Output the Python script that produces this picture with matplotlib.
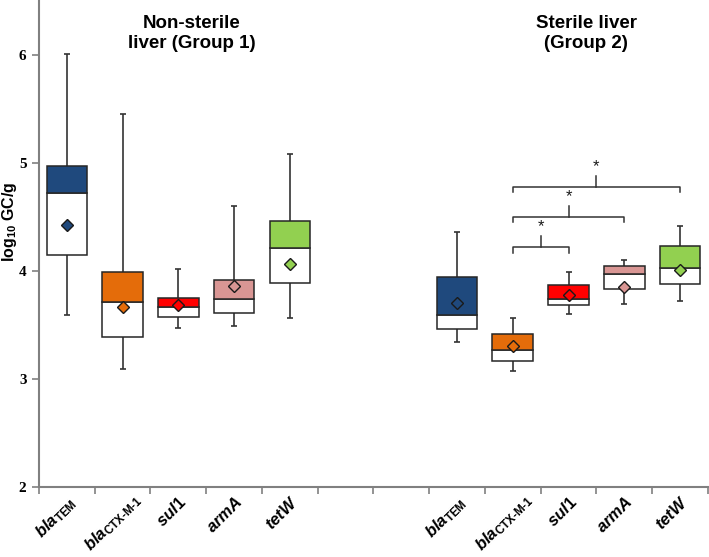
import matplotlib
matplotlib.use('Agg')

import matplotlib.pyplot as plt
import matplotlib.transforms as mtransforms
import numpy as np

plt.rcParams['font.family'] = 'Liberation Sans'
plt.rcParams['mathtext.fontset'] = 'custom'
plt.rcParams['mathtext.rm'] = 'Liberation Sans:bold'
plt.rcParams['mathtext.bf'] = 'Liberation Sans:bold'
plt.rcParams['mathtext.it'] = 'Liberation Sans:bold:italic'

# gene labels (bold italic names, upright subscripts)
genes = [r'$\it{bla}_{\mathrm{TEM}}$', r'$\it{bla}_{\mathrm{CTX\text{-}M\text{-}1}}$',
         r'$\it{sul1}$', r'$\it{armA}$', r'$\it{tetW}$']
colors = ['#1f497d', '#e46c0a', '#ff0000', '#d99694', '#92d050']

# group 1: non-sterile liver
g1_min = [3.59, 3.09, 3.47, 3.49, 3.56]
g1_q1 = [4.15, 3.39, 3.57, 3.61, 3.89]
g1_med = [4.72, 3.71, 3.67, 3.74, 4.21]
g1_q3 = [4.97, 3.99, 3.75, 3.92, 4.46]
g1_max = [6.01, 5.45, 4.02, 4.60, 5.08]
g1_mean = [4.43, 3.67, 3.68, 3.86, 4.06]

# group 2: sterile liver
g2_min = [3.34, 3.07, 3.60, 3.69, 3.72]
g2_q1 = [3.46, 3.17, 3.68, 3.83, 3.88]
g2_med = [3.59, 3.27, 3.74, 3.97, 4.03]
g2_q3 = [3.94, 3.42, 3.87, 4.05, 4.23]
g2_max = [4.36, 3.56, 3.99, 4.10, 4.42]
g2_mean = [3.70, 3.30, 3.78, 3.85, 4.01]

# significance brackets in group 2 (gene index pairs, height)
sig_pairs = [(1, 2), (1, 3), (1, 4)]
sig_heights = [4.22, 4.50, 4.78]

fig = plt.figure(figsize=(7.09, 5.57), dpi=100)
ax = fig.add_axes([0.055, 0.126, 0.9435, 0.874])

x1 = np.arange(5) + 0.5
x2 = np.arange(5) + 7.5
edge = '#262626'

for xs, mn, q1, md, q3, mx, me in [(x1, g1_min, g1_q1, g1_med, g1_q3, g1_max, g1_mean),
                                   (x2, g2_min, g2_q1, g2_med, g2_q3, g2_max, g2_mean)]:
    mn, q1, md, q3, mx = map(np.array, (mn, q1, md, q3, mx))
    # whiskers
    ax.errorbar(xs, md, yerr=[md - mn, mx - md], fmt='none', ecolor='#333333',
                elinewidth=1.2, capsize=2.5, capthick=1.2, zorder=1)
    ax.bar(xs, md - q1, bottom=q1, width=0.73, color='white', edgecolor=edge,
           linewidth=1.1, zorder=2)
    ax.bar(xs, q3 - md, bottom=md, width=0.73, color=colors, edgecolor=edge,
           linewidth=1.1, zorder=2)
    for x, m, c in zip(xs, me, colors):
        ax.plot(x, m, marker='D', ms=6, mfc=c, mec='#1a1a1a', mew=1.0, zorder=3)

for (a, b), h in zip(sig_pairs, sig_heights):
    xa, xb = x2[a], x2[b]
    xm = (xa + xb) / 2
    ax.plot([xa, xa, xb, xb], [h - 0.05, h, h, h - 0.05], color='#333333', lw=1.1,
            solid_joinstyle='round', zorder=2)
    ax.plot([xm, xm], [h, h + 0.10], color='#333333', lw=1.1, zorder=2)
    ax.text(xm, h + 0.12, '*', ha='center', va='bottom', fontsize=12, color='#1a1a1a')

ax.set_xlim(0, 12)
ax.set_ylim(2, 6.51)
ax.set_yticks([2, 3, 4, 5, 6])
ax.set_yticklabels(['2', '3', '4', '5', '6'], fontfamily='Liberation Serif',
                   fontweight='bold', fontsize=11)
ax.set_xticks(np.arange(13))
ax.set_xticklabels([])
ax.set_xticks(np.concatenate([x1, x2]), minor=True)
labels = ax.set_xticklabels(genes * 2, minor=True, rotation=45, ha='right', va='top',
                            rotation_mode='anchor', fontsize=12, fontweight='bold')
ax.tick_params(axis='x', which='minor', length=0, pad=5)
ax.tick_params(axis='both', which='major', color='#808080', width=1.2, length=5)
ax.tick_params(axis='y', pad=4)

# the long CTX-M-1 labels sit further right, as in the original
for i, lab in enumerate(labels):
    dx = 10 if i % 5 == 1 else 0
    lab.set_transform(lab.get_transform() +
                      mtransforms.ScaledTranslation(dx / 100, 4 / 100 if dx else 0,
                                                    fig.dpi_scale_trans))

for s in ['top', 'right']:
    ax.spines[s].set_visible(False)
for s in ['left', 'bottom']:
    ax.spines[s].set_color('#808080')
    ax.spines[s].set_linewidth(1.5)

ax.set_ylabel(r'log$_{10}$ GC/g', fontsize=11.5, fontweight='bold')
ax.yaxis.set_label_coords(-0.030, 0.545)

ax.text(2.74, 6.2, 'Non-sterile\nliver (Group 1)', ha='center', va='center',
        fontsize=13.5, fontweight='bold', linespacing=1.3)
ax.text(9.82, 6.2, 'Sterile liver\n(Group 2)', ha='center', va='center',
        fontsize=13.5, fontweight='bold', linespacing=1.3)

fig.savefig('out.png', dpi=100)
